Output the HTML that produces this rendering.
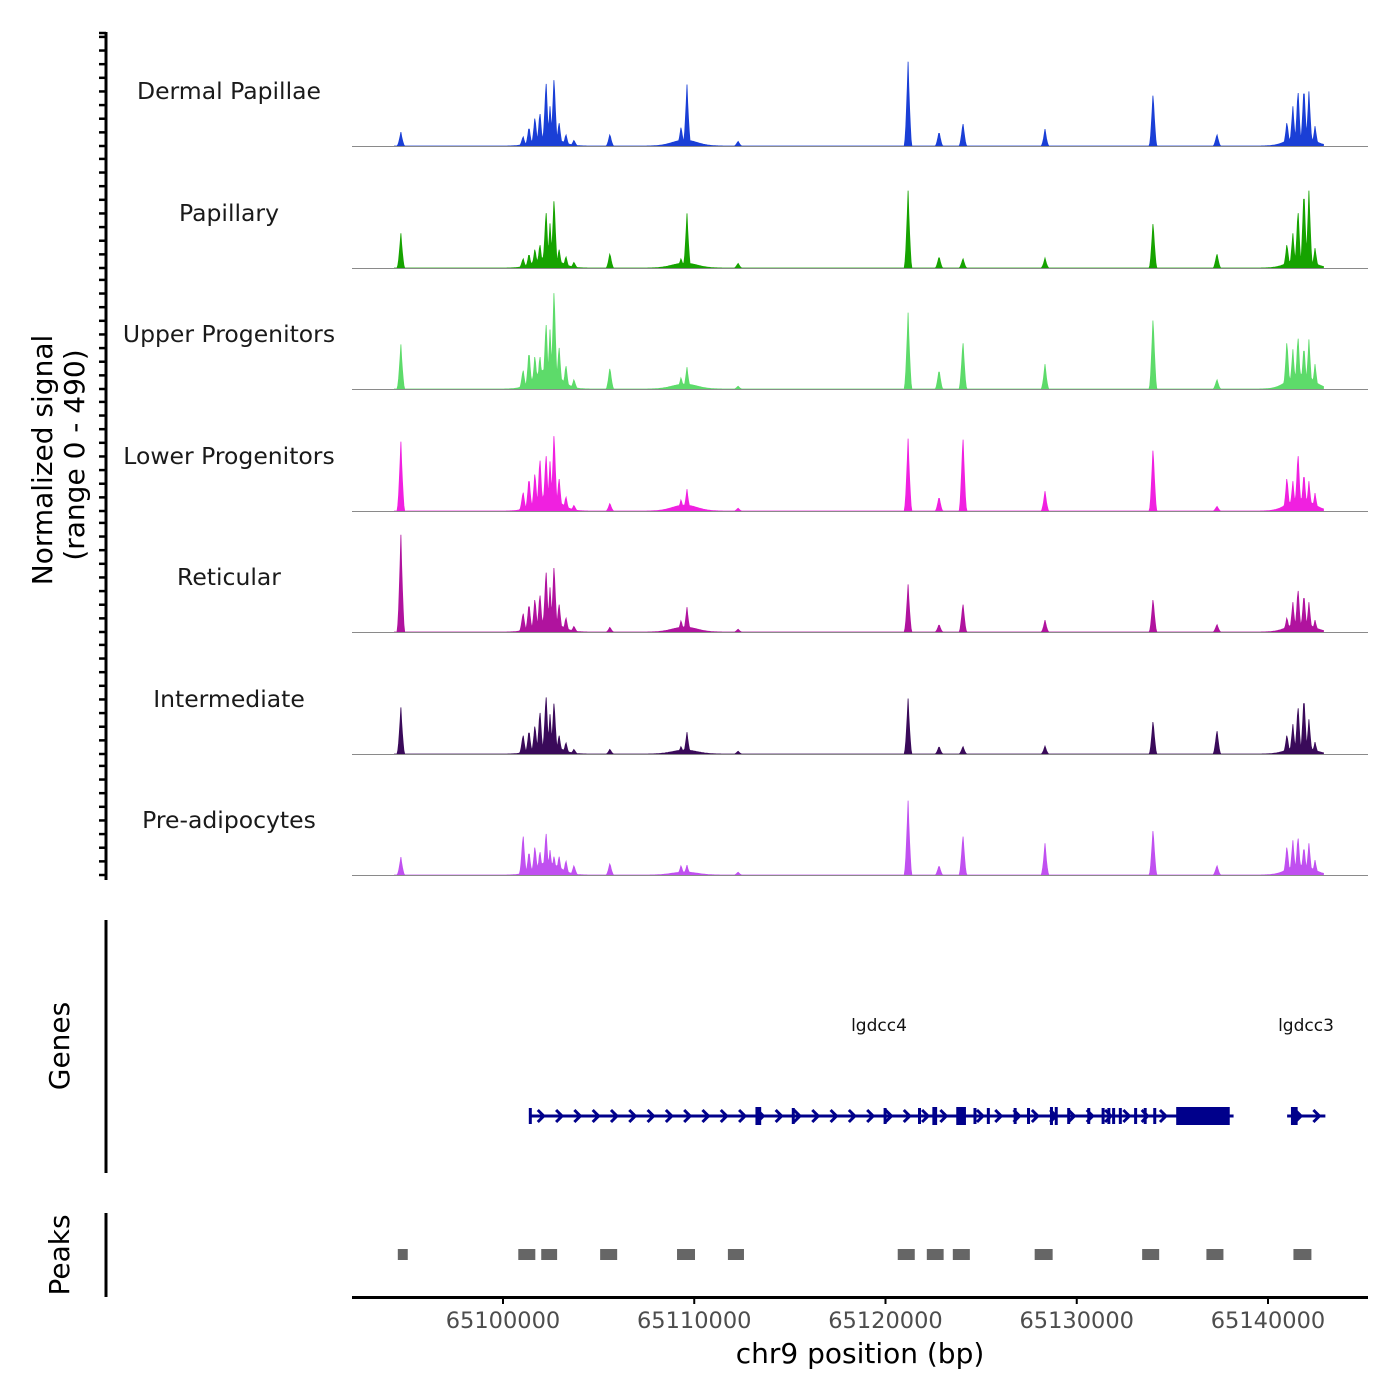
<!DOCTYPE html>
<html><head><meta charset="utf-8"><style>
html,body{margin:0;padding:0;background:#fff;}
svg{display:block;font-family:"DejaVu Sans","Liberation Sans",sans-serif;}
</style></head><body>
<svg id="chart" width="1400" height="1400" viewBox="0 0 1400 1400" xmlns="http://www.w3.org/2000/svg">
<g id="tracks"></g>
<g id="genes"></g>
<g id="peaks"></g>
<g id="axes"></g>
</svg>
<script>
// ---- data ----
const trackNames = ["Dermal Papillae","Papillary","Upper Progenitors","Lower Progenitors","Reticular","Intermediate","Pre-adipocytes"];
const trackColors = ["#1a3fd6","#16a300","#5ddb6a","#f020e0","#b0139e","#3a0a5a","#c050f0"];
const yMax = 490;
const peakPos = [65094660,65101050,65101360,65101670,65101930,65102250,65102460,65102670,65102930,65103290,65103710,65105590,65109310,65109620,65112290,65121180,65122800,65124050,65128340,65133990,65137330,65140990,65141300,65141570,65141880,65142140,65142460];
const sigDermal = [56,40,80,120,140,272,160,288,100,48,24,48,80,248,20,340,60,96,68,220,48,100,160,232,248,220,80];
const sigPapillary = [140,40,60,80,100,240,180,292,80,48,24,60,40,220,20,312,48,40,40,192,60,100,140,240,328,312,80];
const sigUpper = [180,80,160,140,140,280,240,420,180,100,40,88,48,88,12,308,80,200,100,300,40,200,160,220,180,200,100];
const sigLower = [280,80,140,160,220,240,200,328,140,60,24,32,48,88,12,292,60,312,80,264,20,140,120,240,160,120,72];
const sigReticular = [392,80,120,140,160,260,180,280,120,60,24,20,48,100,12,192,32,120,48,140,32,60,120,180,160,120,48];
const sigIntermediate = [188,80,100,120,180,248,160,220,80,48,20,20,32,88,12,224,32,32,32,140,100,80,120,200,240,140,48];
const sigPreadipo = [72,168,100,120,100,180,100,80,80,60,40,48,40,40,12,300,40,168,128,192,40,120,140,160,120,128,60];
const trackSignals = [sigDermal,sigPapillary,sigUpper,sigLower,sigReticular,sigIntermediate,sigPreadipo];
const humpPos = [65102300,65109500,65141700];
const humpDermal=[40,24,40], humpPapillary=[44,20,36], humpUpper=[80,20,60], humpLower=[60,24,50], humpReticular=[48,20,36], humpIntermediate=[40,16,30], humpPreadipo=[50,12,40];
const trackHumps=[humpDermal,humpPapillary,humpUpper,humpLower,humpReticular,humpIntermediate,humpPreadipo];
const geneNames=["lgdcc4","lgdcc3"];
const geneStart=[65101400,65141000];
const geneEnd=[65138200,65143000];
const exonStart=[65101350,65113200,65115100,65119900,65121700,65122450,65123700,65124050,65124600,65125300,65126700,65127400,65128600,65128850,65129500,65130550,65131300,65131600,65131850,65132200,65133000,65133500,65134000,65135200,65141200];
const exonEnd=[65101450,65113500,65115200,65120000,65121800,65122700,65124150,65124150,65124700,65125400,65126800,65127500,65128700,65128950,65129600,65130650,65131400,65131700,65131950,65132300,65133100,65133600,65134100,65138000,65141550];
const exonTall=[0,1,0,0,0,1,1,1,0,0,0,0,1,1,0,0,0,0,0,0,0,0,0,1,1];
const peakStart=[65094500,65100800,65102000,65105080,65109100,65111760,65120640,65122160,65123520,65127800,65133420,65136780,65141330];
const peakEnd=[65095020,65101690,65102830,65105970,65110040,65112600,65121530,65123040,65124410,65128740,65134310,65137670,65142270];
const xTicks=[65100000,65110000,65120000,65130000,65140000];

// ---- scales ----
const X0=352,X1=1368,BP0=65092105,BP1=65145229;
const x = bp => X0+(bp-BP0)/(BP1-BP0)*(X1-X0);
const baselines=[146,268,389,511,632,754,875];
const trackH=121.5;
const yv=(v,i)=>baselines[i]-v/yMax*trackH;
const NS="http://www.w3.org/2000/svg";
function mk(tag,parent,attrs){const e=document.createElementNS(NS,tag);for(const k in attrs)e.setAttribute(k,attrs[k]);parent.appendChild(e);return e;}

// ---- signal tracks ----
const gT=document.getElementById('tracks');
const STEP=40;
for(let i=0;i<7;i++){
  const sig=trackSignals[i],hump=trackHumps[i];
  let pts=[];
  for(let bp=65094300;bp<=65142900;bp+=STEP){
    let v=0;
    for(let k=0;k<peakPos.length;k++){const d=Math.abs(bp-peakPos[k]);const w=200;if(d<w)v=Math.max(v,sig[k]*Math.pow(1-d/w,1.6));}
    for(let k=0;k<humpPos.length;k++){const d=(bp-humpPos[k])/900;v=Math.max(v,hump[k]*Math.exp(-d*d));}
    pts.push(x(bp).toFixed(1)+","+yv(v,i).toFixed(1));
  }
  const p=mk('path',gT,{d:"M"+x(65094300)+","+baselines[i]+" L"+pts.join(" L")+" L"+x(65142900)+","+baselines[i]+"Z",fill:trackColors[i],stroke:trackColors[i],'stroke-width':0.8});
  
  
  const bl=mk('line',gT,{x1:X0,x2:X1,y1:baselines[i]+0.5,y2:baselines[i]+0.5,stroke:'#8a8a8a','stroke-width':1});
  
  
  const t=mk('text',gT,{x:229,y:baselines[i]-47,'text-anchor':'middle','font-size':23.5,fill:'#1a1a1a'});
  t.textContent=trackNames[i];
  
  
}

// ---- genes ----
const gG=document.getElementById('genes');
const GC="#00008b",GY=1116;
for(let g=0;g<geneNames.length;g++){
  const l=mk('line',gG,{x1:x(geneStart[g]),x2:x(geneEnd[g]),y1:GY,y2:GY,stroke:GC,'stroke-width':3});
  
  
  for(let xx=x(geneStart[g])+12;xx<x(geneEnd[g])-4;xx+=18.3){
    const a=mk('polyline',gG,{points:`${xx-4},${GY-6} ${xx+2},${GY} ${xx-4},${GY+6}`,fill:'none',stroke:GC,'stroke-width':3});
    
    
  }
  const t=mk('text',gG,{x:(g==0?879:1306),y:1031,'text-anchor':'middle','font-size':17,fill:'#111'});
  t.textContent=geneNames[g];
  
  
}
for(let e=0;e<exonStart.length;e++){
  const h=exonTall[e]?18:16, w=Math.max(3,x(exonEnd[e])-x(exonStart[e]));
  const r=mk('rect',gG,{x:x(exonStart[e]),y:GY-h/2,width:w,height:h,fill:GC});
  
  
}

// ---- peaks ----
const gP=document.getElementById('peaks');
for(let k=0;k<peakStart.length;k++){
  const r=mk('rect',gP,{x:x(peakStart[k]),y:1249,width:x(peakEnd[k])-x(peakStart[k]),height:11,fill:'#666'});
  
  
}

// ---- axes ----
const gA=document.getElementById('axes');
function ln(x1,y1,x2,y2,w,name){const l=mk('line',gA,{x1,y1,x2,y2,stroke:'#000','stroke-width':w});return l;}
ln(106,32,106,880,3,'y-axis-signal');
ln(106,920,106,1173,3,'y-axis-genes');
ln(106,1213,106,1297,3,'y-axis-peaks');
for(let i=0;i<7;i++){for(let v=0;v<=440;v+=55){const yy=yv(v,i);ln(99,yy,106,yy,2.5,'y-tick');}}
ln(99,33,106,33,2.5,'y-tick');
ln(352,1297.5,1368,1297.5,3,'x-axis-line');
for(const t of xTicks){
  ln(x(t),1297,x(t),1304,2,'x-tick');
  const tx=mk('text',gA,{x:x(t),y:1328,'text-anchor':'middle','font-size':22.5,fill:'#4d4d4d'});
  tx.textContent=t;
  
  
}
function lab(txt,xx,yy,size,name,rot){const t=mk('text',gA,{x:xx,y:yy,'text-anchor':'middle','font-size':size,fill:'#000'});if(rot)t.setAttribute('transform',`rotate(-90 ${xx} ${yy})`);t.textContent=txt;}
lab('chr9 position (bp)',860,1363,28,'x-axis-title',false);
lab('Normalized signal',52,460,28,'y-axis-title',true);
lab('(range 0 - 490)',84,455,28,'y-axis-subtitle',true);
lab('Genes',69,1046,28,'genes-axis-title',true);
lab('Peaks',69,1255,28,'peaks-axis-title',true);
</script>
</body></html>
